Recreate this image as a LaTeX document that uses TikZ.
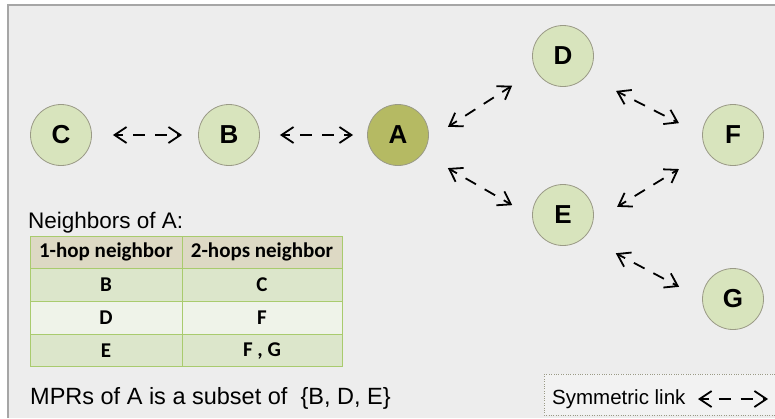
\documentclass[tikz,border=0pt]{standalone}
\usepackage{fontspec}
\setmainfont{Liberation Sans}
\newfontfamily\tabfont{Carlito}
\usetikzlibrary{arrows.meta}

\definecolor{bgcol}{HTML}{EDEDED}
\definecolor{framecol}{HTML}{A6A6A6}
\definecolor{peercol}{HTML}{D8E4BD}
\definecolor{srccol}{HTML}{B5BA63}
\definecolor{rimcol}{HTML}{9A9A86}
\definecolor{headcol}{HTML}{DDD9C4}
\definecolor{rowcol}{HTML}{DCE6CB}
\definecolor{rowlight}{HTML}{EFF3E9}
\definecolor{gridcol}{HTML}{A9CB6E}
\definecolor{legendcol}{HTML}{F2F2F2}

\begin{document}
\begin{tikzpicture}[x=1pt,y=-1pt,
    peer/.style={circle,draw=rimcol,line width=0.8pt,fill=peercol,minimum size=61pt,
      inner sep=0pt,font=\fontsize{26}{26}\selectfont\bfseries},
    link/.style 2 args={{Straight Barb[length=12pt,width=16pt]}-{Straight Barb[length=12pt,width=16pt]},
      line width=1.8pt,dash pattern=on 12pt off 10pt,dash phase=4pt,shorten <=#1pt,shorten >=#2pt},
    cell/.style={font=\tabfont\fontsize{21}{21}\selectfont\bfseries},
    caption/.style={anchor=base west,inner sep=0pt,font=\fontsize{21}{21}\selectfont}
  ]
  \useasboundingbox (0,0) rectangle (775,418);
  \fill[white] (0,0) rectangle (775,418);
  \fill[bgcol] (8,5) rectangle (775,418);
  \draw[framecol,line width=1.5pt] (8,418) -- (8,5) -- (775,5);

  % peers
  \node[peer] (C) at (61,135) {C};
  \node[peer] (B) at (229,135) {B};
  \node[peer,fill=srccol] (A) at (398,135) {A};
  \node[peer] (D) at (563,56) {D};
  \node[peer] (E) at (563,215) {E};
  \node[peer] (F) at (733,135) {F};
  \node[peer] (G) at (733,299) {G};

  % symmetric links
  \draw[link={21}{16}] (C) -- (B);
  \draw[link={20}{14}] (B) -- (A);
  \draw[link={23}{28}] (A.-8) -- (D.208);
  \draw[link={33}{26}] (D.-40) -- (F.180);
  \draw[link={29}{23}] (A.-37) -- (E.183);
  \draw[link={28}{33}] (E.-12) -- (F.213);
  \draw[link={35}{26}] (E.-45) -- (G.180);

  % neighbor table
  \node[caption,font=\fontsize{22.5}{22.5}\selectfont] (nbtitle) at (28,228) {Neighbors of A:};
  \fill[headcol] (30,236) rectangle (342,268);
  \foreach \y/\c in {268/rowcol,301/rowlight,334/rowcol}
    \fill[\c] (30,\y) rectangle (342,\y+33);
  \draw[gridcol,line width=1pt] (30,236) rectangle (342,366) (182,236) -- (182,366);
  \foreach \y in {268,301,334}
    \draw[gridcol,line width=1pt] (30,\y) -- (342,\y);
  \node[cell] (hop1) at (106,252) {1-hop neighbor};
  \node[cell] (hop2) at (262,252) {2-hops neighbor};
  \foreach \one/\two [count=\i] in {B/C,D/F,E/{F , G}} {
    \node[cell] (one\i) at (106,252+33*\i) {\one};
    \node[cell] (two\i) at (262,252+33*\i) {\two};
  }

  \node[caption,font=\fontsize{23.5}{23.5}\selectfont] (mpr) at (30,404)
    {MPRs of A is a subset of\ \ \{B, D, E\}};

  % legend
  \draw[rimcol,dotted,fill=legendcol] (544,374) rectangle (790,415);
  \node[caption,font=\fontsize{20.5}{20.5}\selectfont] (legtext) at (552,404) {Symmetric link};
  \coordinate (legl) at (698,399);
  \coordinate (legr) at (768,399);
  \draw[link={0}{0}] (legl) -- (legr);
\end{tikzpicture}
\end{document}
